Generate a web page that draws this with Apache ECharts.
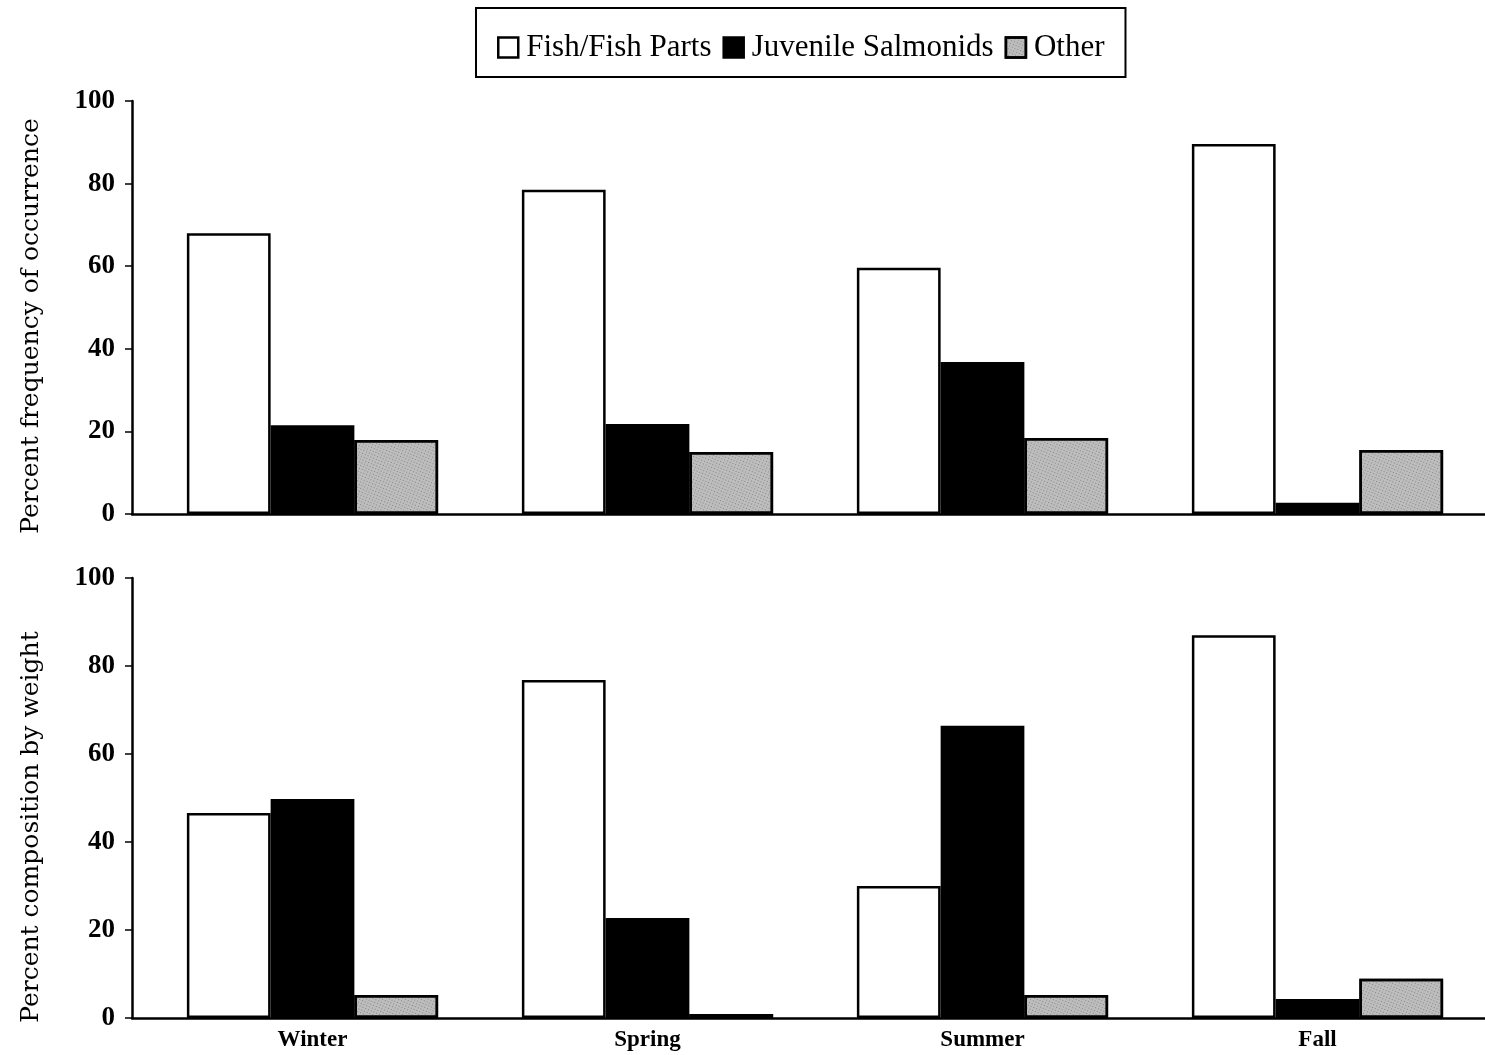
<!DOCTYPE html>
<html>
<head>
<meta charset="utf-8">
<script src="https://cdn.jsdelivr.net/npm/echarts@6/dist/echarts.min.js"></script>
<style>
html,body{margin:0;padding:0;background:#fff;}
#chart{width:1485px;height:1055px;}
</style>
</head>
<body>
<div id="chart"></div>
<script>
const seasons = ['Winter', 'Spring', 'Summer', 'Fall'];
const seriesNames = ['Fish/Fish Parts', 'Juvenile Salmonids', 'Other'];
// Percent frequency of occurrence
const freqFish = [68, 78.5, 59.6, 89.6];
const freqJuv = [21.5, 21.8, 36.8, 2.7];
const freqOther = [17.9, 15.0, 18.4, 15.5];
// Percent composition by weight
const wtFish = [46.6, 76.8, 30, 87];
const wtJuv = [49.8, 22.7, 66.4, 4.3];
const wtOther = [5.2, 0.9, 5.2, 8.9];
const yTicks = [0, 20, 40, 60, 80, 100];
const yTitles = ['Percent frequency of occurrence', 'Percent composition by weight'];

const chart = echarts.init(document.getElementById('chart'), null, {renderer: 'canvas'});
const serif = 'Liberation Serif, Times New Roman, serif';
const AXIS_LEFT = 132, CAT_LEFT = 145;
const panelBox = [{top: 101, height: 413}, {top: 578, height: 440}];

const styles = [
  {color: '#ffffff', borderColor: '#000', borderWidth: 2.5},
  {color: '#000000', borderColor: '#000', borderWidth: 2.5},
  {color: '#bdbdbd', borderColor: '#000', borderWidth: 2.5,
   decal: {symbol: 'rect', symbolSize: 1, color: 'rgba(50,50,50,0.4)', dashArrayX: [1, 2], dashArrayY: [1, 2], rotation: 0.4}}
];
const panels = [[freqFish, freqJuv, freqOther], [wtFish, wtJuv, wtOther]];

// grids 0,1: axes frame (y axis + full-length x line); grids 2,3: bars
const grids = [], xAxes = [], yAxes = [];
panelBox.forEach(b => grids.push({left: AXIS_LEFT, right: 0, top: b.top, height: b.height}));
panelBox.forEach(b => grids.push({left: CAT_LEFT, right: 0, top: b.top, height: b.height}));
[0, 1].forEach(i => {
  xAxes.push({
    type: 'value', gridIndex: i, min: 0, max: 1,
    axisLine: {show: true, onZero: false, lineStyle: {color: '#000', width: 2.5}},
    axisTick: {show: false}, axisLabel: {show: false}, splitLine: {show: false}
  });
  yAxes.push({
    type: 'value', gridIndex: i, min: yTicks[0], max: yTicks[yTicks.length - 1], interval: 20,
    name: yTitles[i], nameLocation: 'middle', nameGap: 88, nameRotate: 90,
    nameTextStyle: {fontFamily: 'DejaVu Serif, serif', fontSize: 25, color: '#000', padding: [0, i === 0 ? 37 : 58, 0, 0]},
    axisLine: {show: true, lineStyle: {color: '#000', width: 2.5}},
    axisTick: {show: true, inside: false, length: 7, lineStyle: {color: '#000', width: 1.5}},
    axisLabel: {fontFamily: serif, fontWeight: 'bold', fontSize: 27, color: '#000', margin: 17},
    splitLine: {show: false}
  });
});
[0, 1].forEach(i => {
  xAxes.push({
    type: 'category', gridIndex: 2 + i, data: seasons,
    axisLine: {show: false}, axisTick: {show: false},
    axisLabel: {show: i === 1, fontFamily: serif, fontWeight: 'bold', fontSize: 23, color: '#000', margin: 11},
    splitLine: {show: false}
  });
  yAxes.push({
    type: 'value', gridIndex: 2 + i, min: yTicks[0], max: yTicks[yTicks.length - 1], interval: 20,
    show: false, splitLine: {show: false}
  });
});

const series = [];
panels.forEach((vals, p) => {
  vals.forEach((arr, s) => {
    series.push({
      name: seriesNames[s], type: 'bar', xAxisIndex: 2 + p, yAxisIndex: 2 + p,
      data: arr, barGap: '0%', barCategoryGap: '25%',
      itemStyle: styles[s], emphasis: {disabled: true}
    });
  });
});

chart.setOption({
  animation: false,
  legend: {
    data: seriesNames.map((n, s) => ({name: n, icon: 'rect', itemStyle: styles[s]})),
    left: 476, top: 8, orient: 'horizontal',
    padding: [24, 21, 14, 21], itemGap: 11, itemWidth: 20, itemHeight: 20,
    borderColor: '#000', borderWidth: 2, backgroundColor: '#fff',
    textStyle: {fontFamily: serif, fontSize: 31, color: '#000', padding: [0, 0, 0, 3]},
    selectedMode: false
  },
  grid: grids,
  xAxis: xAxes,
  yAxis: yAxes,
  series: series
});
</script>
</body>
</html>
